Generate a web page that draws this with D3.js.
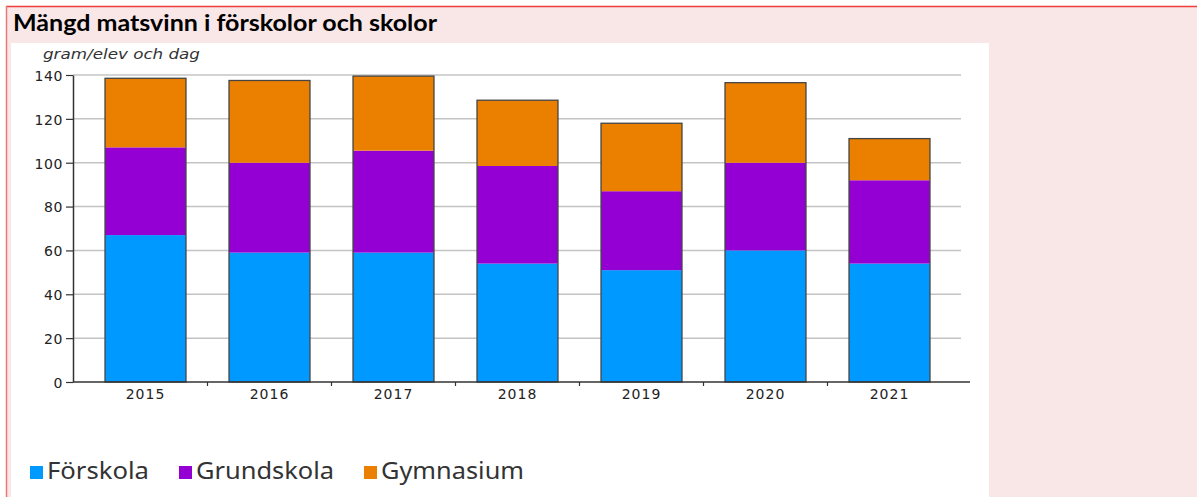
<!DOCTYPE html>
<html>
<head>
<meta charset="utf-8">
<script src="https://cdn.jsdelivr.net/npm/d3@7"></script>
<style>
  html, body { margin: 0; padding: 0; background: #ffffff; }
  svg { display: block; }
</style>
</head>
<body>
<svg id="chart" width="1197" height="497"></svg>
<script>
// Food waste per pupil and day, by school type (stacked)
const years = ["2015", "2016", "2017", "2018", "2019", "2020", "2021"];
const forskola   = [67, 59, 59, 54, 51, 60, 54];
const grundskola = [40, 41, 46.5, 44.5, 36, 40, 38];
const gymnasium  = [31.5, 37.5, 34, 30, 31, 36.5, 19];
const seriesNames = ["Förskola", "Grundskola", "Gymnasium"];
const seriesColors = ["#0099ff", "#9400d3", "#eb8000"];
const yTicks = [0, 20, 40, 60, 80, 100, 120, 140];
const titleText = "Mängd matsvinn i förskolor och skolor";
const unitText = "gram/elev och dag";

const svg = d3.select("#chart");

// Page frame
svg.append("rect").attr("x", 0).attr("y", 0).attr("width", 1197).attr("height", 497).attr("fill", "#ffffff");
svg.append("rect").attr("x", 6).attr("y", 6).attr("width", 1191).attr("height", 491).attr("fill", "#f9e6e6");
svg.append("line").attr("x1", 6).attr("x2", 1197).attr("y1", 6.5).attr("y2", 6.5).attr("stroke", "#f03c3c").attr("stroke-width", 1.5);
svg.append("line").attr("x1", 6.5).attr("x2", 6.5).attr("y1", 6).attr("y2", 497).attr("stroke", "#e87a7a").attr("stroke-width", 1.5);
svg.append("rect").attr("x", 11).attr("y", 43).attr("width", 978).attr("height", 454).attr("fill", "#ffffff");

svg.append("text")
  .attr("x", 13).attr("y", 31)
  .attr("font-family", "Lato, 'Open Sans', sans-serif")
  .attr("font-weight", "bold")
  .attr("font-size", 22.5)
  .attr("fill", "#000")
  .attr("textLength", 424).attr("lengthAdjust", "spacingAndGlyphs")
  .text(titleText);

// Scales
const x = d3.scaleBand().domain(years).range([83.5, 951.5]).padding(0);
const y = d3.scaleLinear().domain([0, 140]).range([382, 75]);
const barW = x.bandwidth() * 0.653;

// Grid lines
svg.append("g").selectAll("line").data(yTicks.filter(d => d > 0)).join("line")
  .attr("x1", 73).attr("x2", 961)
  .attr("y1", d => y(d)).attr("y2", d => y(d))
  .attr("stroke", "#c4c4c4").attr("stroke-width", 1.5);

// Stacked bars
const rows = years.map((yr, i) => ({ year: yr, "Förskola": forskola[i], "Grundskola": grundskola[i], "Gymnasium": gymnasium[i] }));
const stack = d3.stack().keys(seriesNames)(rows);
const color = d3.scaleOrdinal().domain(seriesNames).range(seriesColors);

svg.append("g").selectAll("g").data(stack).join("g")
  .attr("fill", d => color(d.key))
  .selectAll("rect").data(d => d).join("rect")
  .attr("x", d => x(d.data.year) + (x.bandwidth() - barW) / 2)
  .attr("width", barW)
  .attr("y", d => y(d[1]))
  .attr("height", d => y(d[0]) - y(d[1]));

// Bar outlines
svg.append("g").selectAll("rect").data(rows).join("rect")
  .attr("x", d => x(d.year) + (x.bandwidth() - barW) / 2)
  .attr("width", barW)
  .attr("y", d => y(d["Förskola"] + d["Grundskola"] + d["Gymnasium"]))
  .attr("height", d => y(0) - y(d["Förskola"] + d["Grundskola"] + d["Gymnasium"]))
  .attr("fill", "none")
  .attr("stroke", "#454545").attr("stroke-width", 1.3);

// Y axis
const yAxis = svg.append("g").attr("transform", "translate(73,0)")
  .call(d3.axisLeft(y).tickValues(yTicks).tickSize(7).tickPadding(3).tickSizeOuter(0));
yAxis.select(".domain").attr("stroke", "#333").attr("stroke-width", 1.5);
yAxis.selectAll(".tick line").attr("stroke", "#333").attr("stroke-width", 1.2);
yAxis.selectAll(".tick text")
  .attr("font-family", "'DejaVu Sans', Verdana, sans-serif")
  .attr("font-size", 14).attr("letter-spacing", 0.6)
  .attr("fill", "#222").attr("dy", "0.38em");

// X axis baseline, separators and labels
svg.append("line").attr("x1", 73).attr("x2", 970).attr("y1", y(0)).attr("y2", y(0))
  .attr("stroke", "#333").attr("stroke-width", 1.5);
svg.append("g").selectAll("line").data(years.slice(1)).join("line")
  .attr("x1", d => x(d)).attr("x2", d => x(d))
  .attr("y1", y(0)).attr("y2", y(0) + 4)
  .attr("stroke", "#333").attr("stroke-width", 1.2);
svg.append("g").selectAll("text").data(years).join("text")
  .attr("x", d => x(d) + x.bandwidth() / 2)
  .attr("y", 399)
  .attr("text-anchor", "middle")
  .attr("font-family", "'DejaVu Sans', Verdana, sans-serif")
  .attr("font-size", 14).attr("letter-spacing", 1)
  .attr("fill", "#222")
  .text(d => d);

// Unit label
svg.append("text")
  .attr("x", 43).attr("y", 59)
  .attr("font-family", "'DejaVu Sans', Verdana, sans-serif")
  .attr("font-style", "italic")
  .attr("font-size", 14)
  .attr("fill", "#333")
  .attr("textLength", 157).attr("lengthAdjust", "spacingAndGlyphs")
  .text(unitText);

// Legend
const legendX = [30, 179, 364];
const legendTextW = [102, 138, 143];
const legend = svg.append("g").selectAll("g").data(seriesNames).join("g")
  .attr("transform", (d, i) => `translate(${legendX[i]},466)`);
legend.append("rect").attr("width", 13).attr("height", 13).attr("fill", d => color(d));
legend.append("text")
  .attr("x", 17).attr("y", 13)
  .attr("font-family", "'Noto Sans', 'Open Sans', sans-serif")
  .attr("font-size", 24)
  .attr("fill", "#333")
  .attr("textLength", (d, i) => legendTextW[i]).attr("lengthAdjust", "spacingAndGlyphs")
  .text(d => d);
</script>
</body>
</html>
